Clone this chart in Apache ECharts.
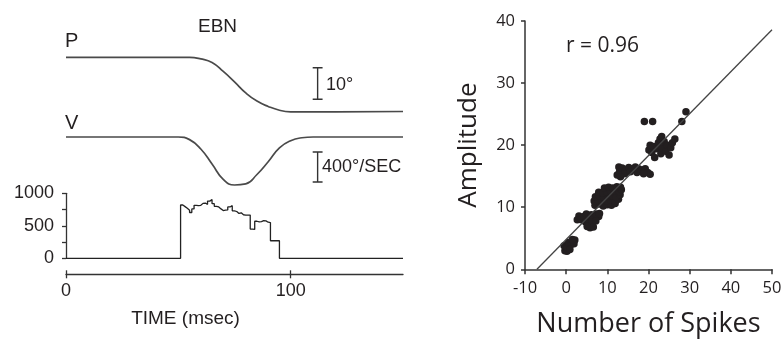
<!DOCTYPE html>
<html><head><meta charset="utf-8">
<script src="https://cdn.jsdelivr.net/npm/echarts@6/dist/echarts.min.js"></script>
<style>html,body{margin:0;padding:0;background:#fff}#c{width:782px;height:340px}</style>
</head><body><div id="c"></div>
<script>
// ---- Left panel: eye position / velocity traces (time in ms)
const traceTime   = [0, 45, 50, 55, 60, 65, 70, 75, 80, 85, 90, 95, 100, 105, 110, 120, 150];
const positionDeg = [0, 0, 0, 0, -0.5, -1.65, -4.5, -7.8, -11.3, -13.9, -15.6, -16.8, -17.3, -17.35, -17.35, -17.3, -17.2];
const velocityDps = [0, 0, 0, -35, -160, -360, -565, -640, -625, -500, -330, -145, -49, -10, 0, 0, 0];

// scale bars
const barTimeMs = 112;
const posBarDeg = [-3.3, -13.3];
const velBarDps = [-200, -600];

// ---- EBN firing-rate histogram (1 ms bins starting at 51 ms)
const histStartMs = 51;
const histBinMs = 1;
const histRate = [820, 795, 770, 740, 705, 760, 815, 810, 815, 845,
                  850, 830, 880, 905, 840, 800, 790, 760, 735, 740,
                  745, 790, 810, 730, 720, 690, 700, 670, 665, 665,
                  665, 450, 445, 570, 560, 565, 580, 575, 555, 550,
                  270, 270, 270, 270];
const timeTicks = [0, 100];
const rateLabels = [0, 500, 1000];

// ---- Right panel: amplitude vs number of spikes
const spikes = [
  -0.3, 0.2, -0.5, 0.3, 0.6, 1.2, 1.8, 2.1, 1.9, 1.5, 0.9,
  2.7, 3.1, 3.7, 4.3, 4.9, 5.5, 6.1, 6.7, 7.3, 7.9, 8.1, 4.7, 5.4, 6.3, 7.2, 5.8, 6.6, 5.1,
  7.0, 8.0, 9.0, 10.0, 11.0, 11.9,
  6.8, 7.8, 8.8, 9.8, 10.8, 11.8, 12.7,
  7.1, 8.1, 9.1, 10.1, 11.1, 12.1, 13.1,
  7.9, 8.9, 9.9, 10.9, 11.9, 12.9, 13.4,
  9.3, 10.3, 11.3, 12.3, 13.2,
  12.4, 13.0, 12.8, 13.6, 14.4, 15.2, 16.0, 16.8, 17.6, 18.4, 19.2, 19.8, 20.4, 14.2, 15.6, 17.2, 18.8, 13.2,
  20.1, 20.4, 20.8, 21.2, 21.5, 22.0, 22.4, 22.8, 23.0, 23.4, 23.8, 24.2, 24.6, 25.0, 25.4, 25.8, 26.4, 23.2,
  19.0, 21.0, 28.1, 29.1
];
const amplitude = [
  3.0, 2.9, 3.8, 3.5, 4.3, 4.0, 4.5, 4.7, 4.1, 4.8, 3.2,
  8.0, 8.6, 8.0, 8.5, 8.9, 8.3, 8.8, 8.4, 8.9, 8.5, 9.0, 7.6, 7.3, 7.6, 7.8, 6.7, 6.8, 6.9,
  10.3, 10.5, 10.2, 10.4, 10.3, 10.6,
  11.0, 11.1, 10.9, 11.0, 11.2, 11.0, 11.3,
  11.7, 11.8, 11.6, 11.7, 11.9, 11.7, 12.0,
  12.4, 12.3, 12.5, 12.4, 12.6, 12.5, 12.8,
  13.1, 13.2, 13.1, 13.3, 13.2,
  15.2, 15.8, 16.5, 16.3, 16.0, 16.4, 16.1, 16.5, 16.2, 16.0, 16.2, 15.6, 15.3, 15.4, 15.7, 15.6, 15.4, 14.9,
  19.2, 20.0, 18.8, 19.8, 18.0, 19.4, 20.4, 21.0, 18.6, 19.6, 20.6, 19.0, 20.0, 18.4, 19.6, 20.4, 21.0, 21.4,
  23.8, 23.8, 23.8, 25.4
];
const fitSpikes = [-7.1, 50];
const fitAmp = [0, 38.6];

// ---------------------------------------------------------------
const ARIAL = '"Liberation Sans", Arial, sans-serif';
const HUMAN = '"Open Sans", "Noto Sans", sans-serif';
const INK = '#231f20';
const TRACE = '#4a4a4a';

const zip = (a, b) => a.map((v, i) => [v, b[i]]);
const capHalf = 2.2;
const barPath = (t, v) => [[t - capHalf, v[0]], [t + capHalf, v[0]], [t, v[0]], [t, v[1]], [t - capHalf, v[1]], [t + capHalf, v[1]]];

const histData = [[0, 0]];
histRate.forEach((r, i) => histData.push([histStartMs + i * histBinMs, r]));
histData.push([histStartMs + histRate.length * histBinMs, 0]);
histData.push([150, 0]);

const hiddenX = g => ({gridIndex: g, type: 'value', min: 0, max: 150, show: false});

const option = {
  animation: false,
  backgroundColor: '#fff',
  grid: [
    {left: 66, width: 337, top: 51, height: 69.3, outerBoundsMode: 'none'},
    {left: 66, width: 337, top: 129.5, height: 67.5, outerBoundsMode: 'none'},
    {left: 66, width: 337, top: 193.3, height: 65, outerBoundsMode: 'none'},
    {left: 66, width: 337, top: 274.3, height: 0, outerBoundsMode: 'none'},
    {left: 525, width: 247, top: 21, height: 248.3, outerBoundsMode: 'none'}
  ],
  xAxis: [
    hiddenX(0), hiddenX(1), hiddenX(2),
    {gridIndex: 3, type: 'value', min: 0, max: 150, position: 'bottom',
      axisLine: {show: true, lineStyle: {color: '#333', width: 1.3}},
      axisTick: {show: true, length: 4, customValues: timeTicks, lineStyle: {color: '#333', width: 1.3}},
      axisLabel: {customValues: timeTicks, color: INK, fontFamily: ARIAL, fontSize: 18, margin: 8},
      splitLine: {show: false}},
    {gridIndex: 3, type: 'value', min: 0, max: 150, position: 'top',
      axisLine: {show: false},
      axisTick: {show: true, length: 4, customValues: timeTicks, lineStyle: {color: '#333', width: 1.3}},
      axisLabel: {show: false}, splitLine: {show: false}},
    {gridIndex: 4, type: 'value', min: -10, max: 50, interval: 10,
      axisLine: {show: true, onZero: false, lineStyle: {color: '#333', width: 1.5}},
      axisTick: {show: true, length: 5, lineStyle: {color: '#333', width: 1.5}},
      axisLabel: {color: INK, fontFamily: HUMAN, fontSize: 16.5, margin: 10},
      splitLine: {show: false},
      name: 'Number of Spikes', nameLocation: 'middle', nameGap: 42,
      nameTextStyle: {color: INK, fontFamily: HUMAN, fontSize: 27}}
  ],
  yAxis: [
    {gridIndex: 0, type: 'value', min: -20, max: 2, show: false},
    {gridIndex: 1, type: 'value', min: -800, max: 100, show: false},
    {gridIndex: 2, type: 'value', min: 0, max: 1000, interval: 250,
      axisLine: {show: true, onZero: false, lineStyle: {color: '#333', width: 1.3}},
      axisTick: {show: true, length: 4, lineStyle: {color: '#333', width: 1.3}},
      axisLabel: {color: INK, fontFamily: ARIAL, fontSize: 18, margin: 12,
        formatter: v => rateLabels.includes(v) ? String(v) : ''},
      splitLine: {show: false}},
    {gridIndex: 3, type: 'value', min: 0, max: 1, show: false},
    {gridIndex: 4, type: 'value', min: 0, max: 40, interval: 10,
      axisLine: {show: true, onZero: false, lineStyle: {color: '#333', width: 1.5}},
      axisTick: {show: true, length: 4, lineStyle: {color: '#333', width: 1.5}},
      axisLabel: {color: INK, fontFamily: HUMAN, fontSize: 16.5, margin: 10},
      splitLine: {show: false},
      name: 'Amplitude', nameLocation: 'middle', nameGap: 43, nameRotate: 90,
      nameTextStyle: {color: INK, fontFamily: HUMAN, fontSize: 26}}
  ],
  series: [
    {type: 'line', xAxisIndex: 0, yAxisIndex: 0, data: zip(traceTime, positionDeg),
      smooth: 0.5, showSymbol: false, lineStyle: {color: TRACE, width: 1.7}},
    {type: 'line', xAxisIndex: 0, yAxisIndex: 0, data: barPath(barTimeMs, posBarDeg),
      showSymbol: false, lineStyle: {color: '#333', width: 1.4}},
    {type: 'line', xAxisIndex: 1, yAxisIndex: 1, data: zip(traceTime, velocityDps),
      smooth: 0.5, showSymbol: false, lineStyle: {color: TRACE, width: 1.7}},
    {type: 'line', xAxisIndex: 1, yAxisIndex: 1, data: barPath(barTimeMs, velBarDps),
      showSymbol: false, lineStyle: {color: '#333', width: 1.4}},
    {type: 'line', xAxisIndex: 2, yAxisIndex: 2, data: histData, step: 'end',
      showSymbol: false, lineStyle: {color: '#222', width: 1.3}},
    {type: 'line', xAxisIndex: 5, yAxisIndex: 4, data: zip(fitSpikes, fitAmp),
      showSymbol: false, lineStyle: {color: '#444', width: 1.3}},
    {type: 'scatter', xAxisIndex: 5, yAxisIndex: 4, data: zip(spikes, amplitude),
      symbolSize: 7.5, itemStyle: {color: INK, opacity: 1}}
  ],
  graphic: [
    {type: 'text', x: 217.5, y: 27, style: {text: 'EBN', font: '19px ' + ARIAL, fill: INK, align: 'center', verticalAlign: 'middle'}},
    {type: 'text', x: 65, y: 41, style: {text: 'P', font: '20px ' + ARIAL, fill: INK, align: 'left', verticalAlign: 'middle'}},
    {type: 'text', x: 65, y: 123, style: {text: 'V', font: '20px ' + ARIAL, fill: INK, align: 'left', verticalAlign: 'middle'}},
    {type: 'text', x: 326, y: 85, style: {text: '10°', font: '18px ' + ARIAL, fill: INK, align: 'left', verticalAlign: 'middle'}},
    {type: 'text', x: 322, y: 167, style: {text: '400°/SEC', font: '18px ' + ARIAL, fill: INK, align: 'left', verticalAlign: 'middle'}},
    {type: 'text', x: 185.5, y: 318.5, style: {text: 'TIME (msec)', font: '19px ' + ARIAL, fill: INK, align: 'center', verticalAlign: 'middle'}},
    {type: 'text', x: 566, y: 46, style: {text: 'r = 0.96', font: '21px ' + HUMAN, fill: INK, align: 'left', verticalAlign: 'middle'}}
  ]
};
echarts.init(document.getElementById('c'), null, {renderer: 'canvas'}).setOption(option);
</script>
</body></html>
